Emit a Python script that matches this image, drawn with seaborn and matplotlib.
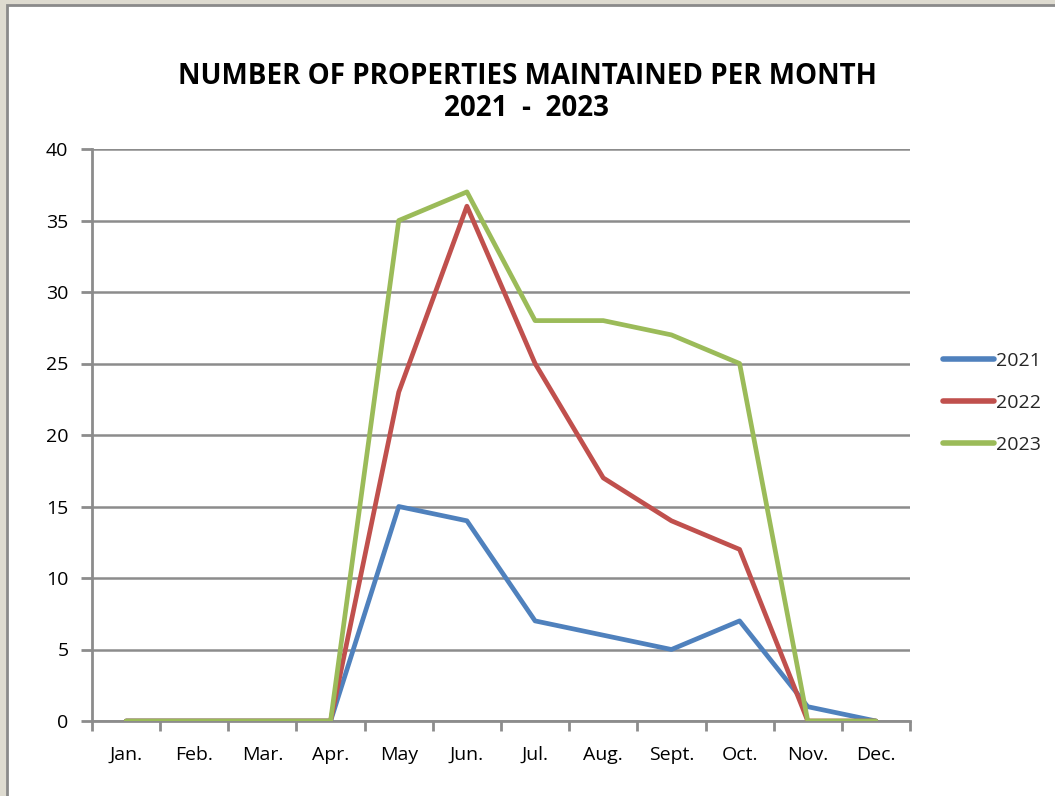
import numpy as np
import pandas as pd
import matplotlib
matplotlib.use("Agg")
import matplotlib.pyplot as plt
import seaborn as sns
from matplotlib.patches import Rectangle

months = ["Jan.", "Feb.", "Mar.", "Apr.", "May", "Jun.", "Jul.", "Aug.", "Sept.", "Oct.", "Nov.", "Dec."]
y2021 = [0, 0, 0, 0, 15, 14, 7, 6, 5, 7, 1, 0]
y2022 = [0, 0, 0, 0, 23, 36, 25, 17, 14, 12, 0, 0]
y2023 = [0, 0, 0, 0, 35, 37, 28, 28, 27, 25, 0, 0]
series = {"2021": y2021, "2022": y2022, "2023": y2023}
colors = {"2021": "#4F81BD", "2022": "#C0504D", "2023": "#9BBB59"}

rows = []
for name, vals in series.items():
    for i, v in enumerate(vals):
        rows.append({"pos": i, "month": months[i], "year": name, "value": v})
df = pd.DataFrame(rows)

sns.set_theme(style="white")
plt.rcParams["font.family"] = ["Open Sans", "DejaVu Sans"]

W, H = 1055, 796
fig = plt.figure(figsize=(W / 100, H / 100), dpi=100)
fig.patch.set_facecolor("#dedbd0")
fig.add_artist(Rectangle((7 / W, -0.01), 1.02, (791 / H) + 0.01, transform=fig.transFigure,
                         facecolor="white", edgecolor="#8a8a8a", linewidth=2, zorder=0))

ax = fig.add_axes([92 / W, 1 - 721 / H, (910 - 92) / W, (721 - 149) / H])
ax.set_facecolor("white")
sns.lineplot(data=df, x="pos", y="value", hue="year", palette=colors, linewidth=3.4,
             ax=ax, legend=True, zorder=3)

ax.set_xlim(-0.5, 11.5)
ax.set_ylim(0, 40)
ax.set_yticks(range(0, 41, 5))
ax.set_xticks(range(12))
ax.set_xticklabels(months)
ax.set_xticks(np.arange(-0.5, 12, 1), minor=True)
ax.tick_params(axis="x", which="major", bottom=True, length=0, pad=18, labelsize=14, labelcolor="#000000")
ax.tick_params(axis="x", which="minor", bottom=True, length=7, width=2, color="#8c8c8c", direction="out")
ax.tick_params(axis="y", which="major", left=True, length=8, width=2, color="#8c8c8c", direction="out",
               labelsize=14, pad=9, labelcolor="#000000")
ax.yaxis.grid(True, color="#8c8c8c", linewidth=1.8)
ax.xaxis.grid(False)
ax.set_axisbelow(True)
for s in ["top", "right"]:
    ax.spines[s].set_visible(False)
for s in ["left", "bottom"]:
    ax.spines[s].set_color("#8c8c8c")
    ax.spines[s].set_linewidth(2)
ax.set_xlabel("")
ax.set_ylabel("")

leg = ax.legend(loc="center left", bbox_to_anchor=(1.019, 0.556), frameon=False, fontsize=14,
                handlelength=2.6, handletextpad=0.12, labelspacing=1.25)
for line in leg.get_lines():
    line.set_linewidth(4)
    line.set_solid_capstyle("round")

fig.text(527 / W, 1 - 77 / H, "NUMBER OF PROPERTIES MAINTAINED PER MONTH", ha="center", va="center",
         fontsize=20, fontweight="bold", color="#000000")
fig.text(527 / W, 1 - 109 / H, "2021  -  2023", ha="center", va="center",
         fontsize=20, fontweight="bold", color="#000000")

fig.savefig("out.png", dpi=100, facecolor=fig.get_facecolor())
